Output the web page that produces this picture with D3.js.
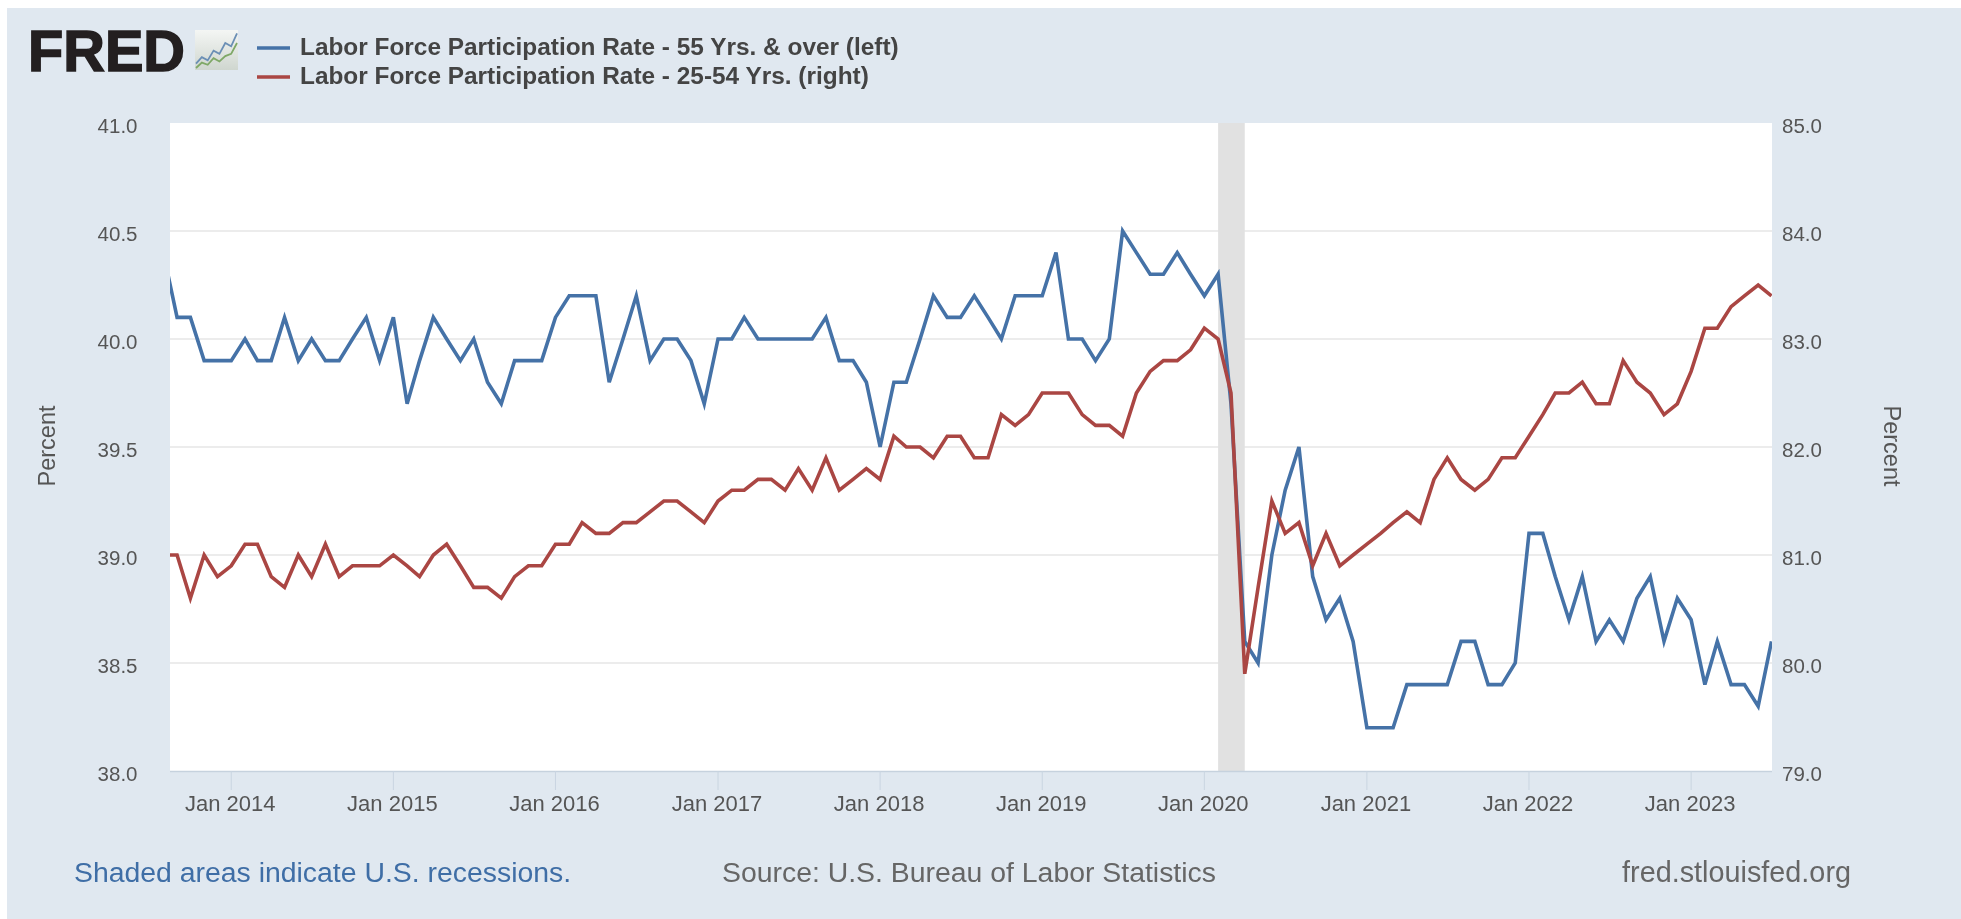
<!DOCTYPE html>
<html><head><meta charset="utf-8">
<script src="https://cdn.jsdelivr.net/npm/d3@7"></script>
<style>html,body{margin:0;padding:0;background:#fff;overflow:hidden}svg{display:block;filter:blur(0.5px)}text{font-family:"Liberation Sans",Arial,sans-serif}</style>
</head><body><svg id="c" width="1961" height="919"></svg>
<script>
const startMonth = "2013-08";
const blueValues = [40.4,40.1,40.1,39.9,39.9,39.9,40.0,39.9,39.9,40.1,39.9,40.0,39.9,39.9,40.0,40.1,39.9,
40.1,39.7,39.9,40.1,40.0,39.9,40.0,39.8,39.7,39.9,39.9,39.9,
40.1,40.2,40.2,40.2,39.8,40.0,40.2,39.9,40.0,40.0,39.9,39.7,
40.0,40.0,40.1,40.0,40.0,40.0,40.0,40.0,40.1,39.9,39.9,39.8,
39.5,39.8,39.8,40.0,40.2,40.1,40.1,40.2,40.1,40.0,40.2,40.2,
40.2,40.4,40.0,40.0,39.9,40.0,40.5,40.4,40.3,40.3,40.4,40.3,
40.2,40.3,39.7,38.6,38.5,39.0,39.3,39.5,38.9,38.7,38.8,38.6,
38.2,38.2,38.2,38.4,38.4,38.4,38.4,38.6,38.6,38.4,38.4,38.5,
39.1,39.1,38.9,38.7,38.9,38.6,38.7,38.6,38.8,38.9,38.6,38.8,
38.7,38.4,38.6,38.4,38.4,38.3,38.6];
const redValues = [81.0,81.0,80.6,81.0,80.8,80.9,81.1,81.1,80.8,80.7,81.0,80.8,81.1,80.8,80.9,80.9,80.9,
81.0,80.9,80.8,81.0,81.1,80.9,80.7,80.7,80.6,80.8,80.9,80.9,
81.1,81.1,81.3,81.2,81.2,81.3,81.3,81.4,81.5,81.5,81.4,81.3,
81.5,81.6,81.6,81.7,81.7,81.6,81.8,81.6,81.9,81.6,81.7,81.8,
81.7,82.1,82.0,82.0,81.9,82.1,82.1,81.9,81.9,82.3,82.2,82.3,
82.5,82.5,82.5,82.3,82.2,82.2,82.1,82.5,82.7,82.8,82.8,82.9,
83.1,83.0,82.5,79.9,80.7,81.5,81.2,81.3,80.9,81.2,80.9,81.0,
81.1,81.2,81.3,81.4,81.3,81.7,81.9,81.7,81.6,81.7,81.9,81.9,
82.1,82.3,82.5,82.5,82.6,82.4,82.4,82.8,82.6,82.5,82.3,82.4,
82.7,83.1,83.1,83.3,83.4,83.5,83.4];
const leftTicks = [38.0,38.5,39.0,39.5,40.0,40.5,41.0];
const rightTicks = [79.0,80.0,81.0,82.0,83.0,84.0,85.0];
const yearTicks = [2014,2015,2016,2017,2018,2019,2020,2021,2022,2023];
const recession = ["2020-02-01","2020-04-01"];
const legendLabels = ["Labor Force Participation Rate - 55 Yrs. & over (left)","Labor Force Participation Rate - 25-54 Yrs. (right)"];
const iconBlueLine = [0.8,2,1.4,3.2,2.6,4.6,4,6.4];
const iconGreenLine = [0,1,.6,1.8,1.2,2.2,2.6,4.6];

const L=170,R=1772,T=123,B=771, X0=163.3, X1=1771.5;
const svg=d3.select("#c");
const months=blueValues.map((_,i)=>new Date(Date.UTC(2013,7+i,1)));
const x=d3.scaleUtc().domain([months[0],months[months.length-1]]).range([X0,X1]);
const yL=d3.scaleLinear().domain([38,41]).range([B,T]);
const yR=d3.scaleLinear().domain([79,85]).range([B,T]);
const tick="#555";

svg.append("rect").attr("x",7).attr("y",8).attr("width",1954).attr("height",911).attr("fill","#e0e8f0");
svg.append("rect").attr("x",L).attr("y",T).attr("width",R-L).attr("height",B-T).attr("fill","#fff");
const defs=svg.append("defs");
defs.append("clipPath").attr("id","plot").append("rect").attr("x",L).attr("y",T-5).attr("width",R-L).attr("height",B-T+5);
const ig=defs.append("linearGradient").attr("id","ig").attr("x1",0).attr("x2",0).attr("y1",0).attr("y2",1);
ig.append("stop").attr("offset",0).attr("stop-color","#f4f6f4");
ig.append("stop").attr("offset",1).attr("stop-color","#cfd6cf");

// grid
svg.append("g").selectAll("line").data(leftTicks.slice(1,-1)).join("line")
 .attr("x1",L).attr("x2",R).attr("y1",d=>yL(d)).attr("y2",d=>yL(d)).attr("stroke","#e6e6e6").attr("stroke-width",1.5);
// recession
svg.append("rect").attr("x",x(new Date(recession[0]))).attr("y",T).attr("width",x(new Date(recession[1]))-x(new Date(recession[0]))).attr("height",B-T).attr("fill","#e1e1e1");
// x axis
const xg=svg.append("g");
xg.append("line").attr("x1",L).attr("x2",R).attr("y1",B+.5).attr("y2",B+.5).attr("stroke","#c6d2de").attr("stroke-width",1.5);
const tickDates=yearTicks.map(y=>new Date(Date.UTC(y,0,1)));
xg.selectAll("line.t").data(tickDates).join("line").attr("class","t")
 .attr("x1",d=>x(d)).attr("x2",d=>x(d)).attr("y1",B).attr("y2",B+19).attr("stroke","#c9d5e1").attr("stroke-width",1);
xg.selectAll("text").data(tickDates).join("text").attr("x",d=>x(d)-1).attr("y",B+40).attr("text-anchor","middle")
 .attr("font-size",22).attr("fill",tick).text(d=>"Jan "+d.getUTCFullYear());
// y labels
svg.append("g").selectAll("text").data(leftTicks).join("text").attr("x",137.5).attr("y",d=>yL(d)+10).attr("text-anchor","end")
 .attr("font-size",20.5).attr("fill",tick).text(d=>d.toFixed(1));
svg.append("g").selectAll("text").data(rightTicks).join("text").attr("x",1782).attr("y",d=>yR(d)+10).attr("text-anchor","start")
 .attr("font-size",20.5).attr("fill",tick).text(d=>d.toFixed(1));
svg.append("text").attr("transform","translate(55,446) rotate(-90)").attr("text-anchor","middle").attr("font-size",23.5).attr("fill",tick).text("Percent");
svg.append("text").attr("transform","translate(1884,446) rotate(90)").attr("text-anchor","middle").attr("font-size",23.5).attr("fill",tick).text("Percent");
// lines
const g=svg.append("g").attr("clip-path","url(#plot)");
g.append("path").attr("fill","none").attr("stroke","#4572a7").attr("stroke-width",3.6)
 .attr("d",d3.line().x((d,i)=>x(months[i])).y(d=>yL(d))(blueValues));
g.append("path").attr("fill","none").attr("stroke","#aa4643").attr("stroke-width",3.6)
 .attr("d",d3.line().x((d,i)=>x(months[i])).y(d=>yR(d))(redValues));
// legend
const colors=["#4572a7","#aa4643"];
const lg=svg.append("g");
legendLabels.forEach((t,i)=>{const y=48+i*29;
 lg.append("line").attr("x1",257).attr("x2",290).attr("y1",y).attr("y2",y).attr("stroke",colors[i]).attr("stroke-width",3.6);
 lg.append("text").attr("x",300).attr("y",y+7).attr("font-size",24.4).attr("font-weight","bold").attr("fill","#444").text(t);
});
// logo
svg.append("text").attr("x",28).attr("y",71).attr("font-size",57).attr("font-weight","bold").attr("fill","#231f20").attr("stroke","#231f20").attr("stroke-width",1.5)
 .attr("textLength",157).attr("lengthAdjust","spacingAndGlyphs").text("FRED");
svg.append("rect").attr("x",195).attr("y",30).attr("width",43).attr("height",40).attr("fill","url(#ig)");
const ix=d3.scaleLinear().domain([0,7]).range([196,237]), iy=d3.scaleLinear().domain([0,7]).range([68,30]);
svg.append("path").attr("fill","none").attr("stroke","#6b8fb5").attr("stroke-width",1.8).attr("d",d3.line().x((d,i)=>ix(i)).y(d=>iy(d))(iconBlueLine));
svg.append("path").attr("fill","none").attr("stroke","#7fa867").attr("stroke-width",1.8).attr("d",d3.line().x((d,i)=>ix(i)).y(d=>iy(d))(iconGreenLine));
// footer
svg.append("text").attr("x",74).attr("y",882).attr("font-size",28.4).attr("fill","#3f6ea6").text("Shaded areas indicate U.S. recessions.");
svg.append("text").attr("x",722).attr("y",882).attr("font-size",28.4).attr("fill","#666").text("Source: U.S. Bureau of Labor Statistics");
svg.append("text").attr("x",1851).attr("y",882).attr("text-anchor","end").attr("font-size",28.8).attr("fill","#666").text("fred.stlouisfed.org");
</script></body></html>
